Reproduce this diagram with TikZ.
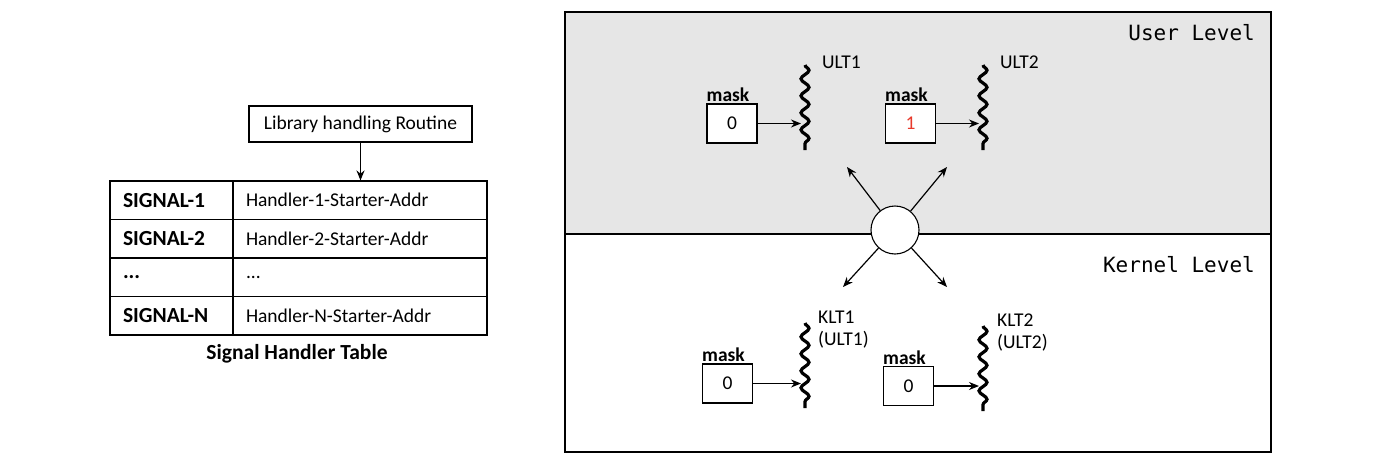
\documentclass[tikz,border=0pt]{standalone}
\usepackage{fontspec}
\setmainfont{Carlito}
\newfontfamily\levelfont{DejaVu Sans Mono}
\usetikzlibrary{arrows.meta,decorations.pathmorphing}
\definecolor{levelgray}{HTML}{E6E6E6}
\definecolor{maskred}{HTML}{E8392B}

\begin{document}
\begin{tikzpicture}[x=1pt,y=-1pt,
  every node/.style={font=\fontsize{19.5}{22}\selectfont},
  box/.style={draw,line width=1.1pt,inner sep=0pt,minimum height=36pt},
  cell/.style={draw,line width=1.1pt,minimum height=38.5pt,inner xsep=13pt,inner ysep=0pt,align=left},
  sigcell/.style={cell,text width=97pt,font=\fontsize{21.5}{24}\selectfont\bfseries},
  maskbox/.style={draw,line width=1.1pt,fill=white,minimum width=50pt,minimum height=39pt,inner sep=0pt},
  masklbl/.style={anchor=south west,inner xsep=0pt,inner ysep=1.5pt,font=\fontsize{19.5}{22}\selectfont\bfseries},
  thread/.style={line width=3.2pt,decorate,decoration={snake,segment length=17pt,amplitude=4pt}},
  arr/.style={-{Stealth[length=10pt,width=8pt]},line width=1.2pt},
  lvl/.style={anchor=east,inner sep=0pt,font=\fontsize{21}{24}\selectfont\levelfont}]
\useasboundingbox (0,0) rectangle (1400,469);

\node (lib) at (360.5,124) [box,minimum width=223pt] {Library handling Routine};
\node (s1) at (171.5,200.25) [sigcell] {SIGNAL-1};
\node (s2) at (171.5,238.75) [sigcell] {SIGNAL-2};
\node (s3) at (171.5,277.25) [sigcell] {...};
\node (s4) at (171.5,315.75) [sigcell] {SIGNAL-N};
\node (h1) at (360,200.25) [cell,text width=228pt] {Handler-1-Starter-Addr};
\node (h2) at (360,238.75) [cell,text width=228pt] {Handler-2-Starter-Addr};
\node (h3) at (360,277.25) [cell,text width=228pt] {...};
\node (h4) at (360,315.75) [cell,text width=228pt] {Handler-N-Starter-Addr};
\node (tbl) at (297,354) [font=\fontsize{21.5}{24}\selectfont\bfseries] {Signal Handler Table};
\path (lib) edge[arr] (lib |- h1.north);

\fill[levelgray] (565,12) rectangle (1271,234);
\draw[line width=1.3pt] (565,12) rectangle (1271,452);
\draw[line width=1.1pt] (565,234) -- (1271,234);
\node (user) at (1255,33) [lvl] {User Level};
\node (kern) at (1255,265) [lvl] {Kernel Level};

\coordinate (t1a) at (805,65);
\coordinate (t1b) at (805,150);
\coordinate (t2a) at (983,65);
\coordinate (t2b) at (983,150);
\coordinate (t3a) at (805,323);
\coordinate (t3b) at (805,408);
\coordinate (t4a) at (983,326);
\coordinate (t4b) at (983,411);
\draw[thread] (t1a) -- (t1b);
\draw[thread] (t2a) -- (t2b);
\draw[thread] (t3a) -- (t3b);
\draw[thread] (t4a) -- (t4b);

\node (ult1) at (822,62) [anchor=west,inner sep=0pt] {ULT1};
\node (ult2) at (1000,62) [anchor=west,inner sep=0pt] {ULT2};
\node (klt1) at (818,311) [anchor=north west,inner sep=0pt,align=left] {KLT1\\(ULT1)};
\node (klt2) at (997,314) [anchor=north west,inner sep=0pt,align=left] {KLT2\\(ULT2)};

\node (m1) at (732,123.5) [maskbox] {0};
\node (m2) at (910.5,123.5) [maskbox] {\textcolor{maskred}{1}};
\node (m3) at (727.5,383.5) [maskbox] {0};
\node (m4) at (908.5,386) [maskbox] {0};
\node (ml1) at (m1.north west) [masklbl] {mask};
\node (ml2) at (m2.north west) [masklbl] {mask};
\node (ml3) at (m3.north west) [masklbl] {mask};
\node (ml4) at (m4.north west) [masklbl] {mask};
\path (m1.east) edge[arr,shorten >=4pt] (m1.east -| t1a);
\path (m2.east) edge[arr,shorten >=4pt] (m2.east -| t2a);
\path (m3.east) edge[arr,shorten >=4pt] (m3.east -| t3a);
\path (m4.east) edge[arr,shorten >=4pt] (m4.east -| t4a);

\node (hub) at (895,230) [circle,draw,fill=white,minimum size=48pt,line width=1.1pt] {};
\coordinate (a1) at (847,167);
\coordinate (a2) at (947,167);
\coordinate (a3) at (843,287);
\coordinate (a4) at (947,287);
\path (hub) edge[arr] (a1);
\path (hub) edge[arr] (a2);
\path (hub) edge[arr] (a3);
\path (hub) edge[arr] (a4);
\end{tikzpicture}
\end{document}
